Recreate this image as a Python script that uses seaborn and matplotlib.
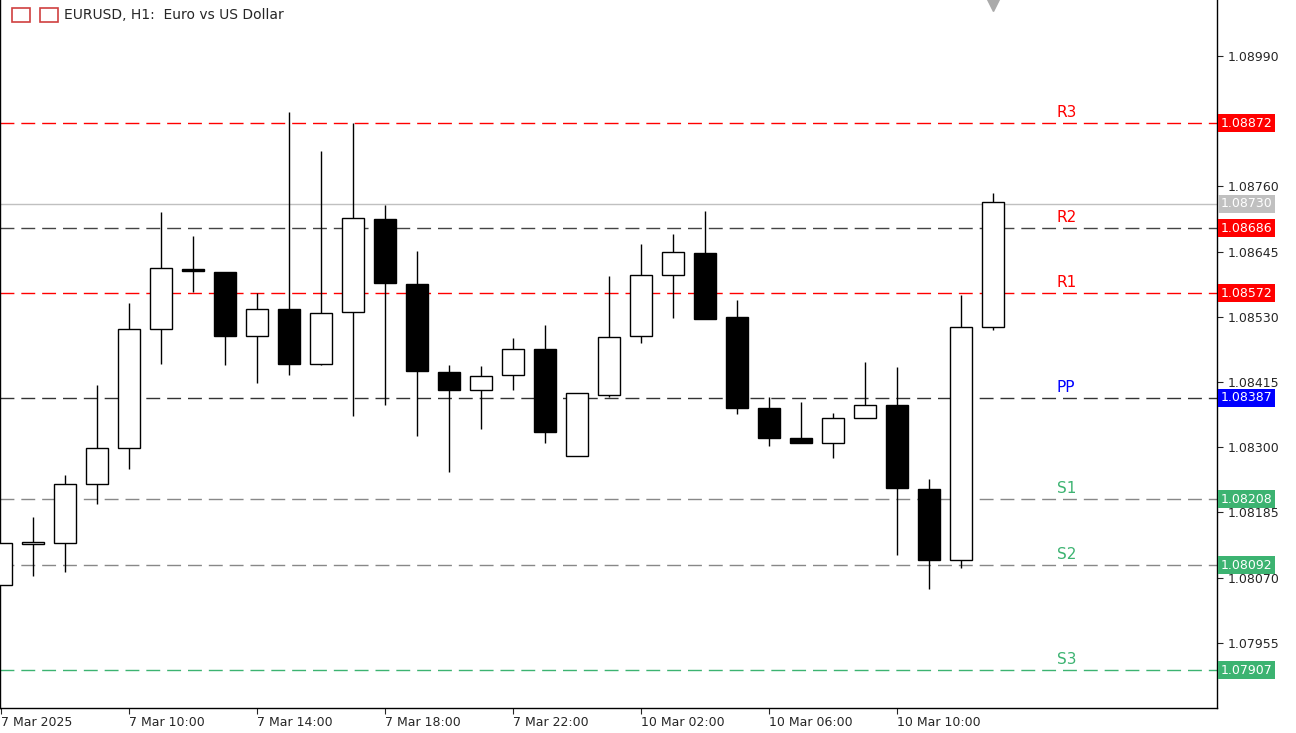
import matplotlib
matplotlib.use("Agg")
import matplotlib.pyplot as plt
import seaborn as sns
import numpy as np

# EURUSD H1 candles, 7 Mar 06:00 -> 10 Mar 11:00
opens = [1.08057, 1.08131, 1.08131, 1.08235, 1.08299, 1.08509, 1.08614, 1.08609,
         1.08496, 1.08544, 1.08447, 1.08538, 1.08703, 1.08588, 1.08433, 1.08401,
         1.08427, 1.08473, 1.08285, 1.08392, 1.08496, 1.08604, 1.08643, 1.08530,
         1.08369, 1.08316, 1.08307, 1.08352, 1.08375, 1.08226, 1.08101, 1.08512]
closes = [1.08131, 1.08131, 1.08235, 1.08299, 1.08509, 1.08616, 1.08611, 1.08496,
          1.08544, 1.08447, 1.08537, 1.08704, 1.08590, 1.08434, 1.08401, 1.08426,
          1.08473, 1.08327, 1.08396, 1.08494, 1.08604, 1.08644, 1.08526, 1.08369,
          1.08316, 1.08307, 1.08352, 1.08375, 1.08228, 1.08101, 1.08512, 1.08733]
highs = [1.08131, 1.08177, 1.08251, 1.08410, 1.08554, 1.08715, 1.08673, 1.08609,
         1.08572, 1.08891, 1.08822, 1.08872, 1.08727, 1.08646, 1.08445, 1.08443,
         1.08493, 1.08516, 1.08396, 1.08602, 1.08658, 1.08676, 1.08717, 1.08560,
         1.08389, 1.08380, 1.08360, 1.08450, 1.08441, 1.08244, 1.08568, 1.08748]
lows = [1.08057, 1.08073, 1.08080, 1.08200, 1.08262, 1.08447, 1.08574, 1.08445,
        1.08413, 1.08427, 1.08445, 1.08355, 1.08375, 1.08320, 1.08256, 1.08332,
        1.08401, 1.08307, 1.08285, 1.08389, 1.08484, 1.08528, 1.08526, 1.08359,
        1.08302, 1.08307, 1.08281, 1.08352, 1.08110, 1.08050, 1.08087, 1.08507]

level_names = ["R3", "R2", "R1", "PP", "S1", "S2", "S3"]
level_values = [1.08872, 1.08686, 1.08572, 1.08387, 1.08208, 1.08092, 1.07907]
level_line_colors = ["red", "#444444", "red", "#333333", "#888888", "#888888", "mediumseagreen"]
level_text_colors = ["red", "red", "red", "blue", "mediumseagreen", "mediumseagreen", "mediumseagreen"]
level_box_colors = ["red", "red", "red", "blue", "mediumseagreen", "mediumseagreen", "mediumseagreen"]
last_price = 1.08730

y_ticks = [1.08990, 1.08760, 1.08645, 1.08530, 1.08415, 1.08300, 1.08185, 1.08070, 1.07955]
x_tick_pos = [0, 4, 8, 12, 16, 20, 24, 28]
x_tick_labels = ["7 Mar 2025", "7 Mar 10:00", "7 Mar 14:00", "7 Mar 18:00",
                 "7 Mar 22:00", "10 Mar 02:00", "10 Mar 06:00", "10 Mar 10:00"]

sns.set_style("white")
plt.rcParams['font.family'] = ['DejaVu Sans']

fig = plt.figure(figsize=(12.96, 7.33), dpi=100)
ax = fig.add_axes([0, 25 / 733, 1217 / 1296, 708 / 733])

x = np.arange(len(opens))
o = np.array(opens); c = np.array(closes)
bull = c >= o
ax.vlines(x, lows, highs, color="black", lw=1, zorder=2)
body = np.where(np.abs(c - o) < 0.00003, 0.00003, np.abs(c - o))
bottom = np.minimum(o, c) - np.where(np.abs(c - o) < 0.00003, 0.000015, 0)
ax.bar(x, body, bottom=bottom, width=0.69, color=np.where(bull, "white", "black"),
       edgecolor="black", lw=1, zorder=3)

ax.set_xlim(-0.02, 38.0)
ax.set_ylim(1.07840, 1.09089)

ax.axhline(last_price, color="#c0c0c0", lw=1, zorder=1)
for name, val, lc, tc in zip(level_names, level_values, level_line_colors, level_text_colors):
    ax.axhline(val, color=lc, lw=1, dashes=(10, 5), zorder=1)
    ax.text(33.0, val + 0.00006, name, color=tc, fontsize=11, va="bottom", ha="left")

ax.yaxis.tick_right()
ax.set_yticks(y_ticks)
ax.set_yticklabels([f"{v:.5f}" for v in y_ticks], fontsize=9)
ax.tick_params(axis="y", length=4, pad=4, direction="out", right=True)
ax.set_xticks(x_tick_pos)
ax.set_xticklabels(x_tick_labels, fontsize=9, ha="left")
ax.tick_params(axis="x", length=4, pad=2, direction="out", bottom=True)
for s in ax.spines.values():
    s.set_color("black"); s.set_linewidth(1)
ax.spines["top"].set_visible(False)

# price boxes on the right axis
for val, bc in zip(level_values + [last_price], level_box_colors + ["#c0c0c0"]):
    ax.text(1.003, val, f"{val:.5f}", transform=ax.get_yaxis_transform(), color="white",
            fontsize=9, va="center", ha="left",
            bbox=dict(boxstyle="square,pad=0.2", fc=bc, ec="none"), zorder=5)

fig.text(64 / 1296, 1 - 15 / 733, "EURUSD, H1:  Euro vs US Dollar", fontsize=10, va="center")
fig.patches.append(plt.Rectangle((12 / 1296, 1 - 22 / 733), 18 / 1296, 14 / 733,
                                 transform=fig.transFigure, fc="white", ec="#d04040", lw=1.2))
fig.patches.append(plt.Rectangle((40 / 1296, 1 - 22 / 733), 18 / 1296, 14 / 733,
                                 transform=fig.transFigure, fc="white", ec="#d04040", lw=1.2))
ax.plot([31], [1.09082], marker="v", color="#aaaaaa", ms=10, clip_on=False)

fig.savefig("out.png", dpi=100)
